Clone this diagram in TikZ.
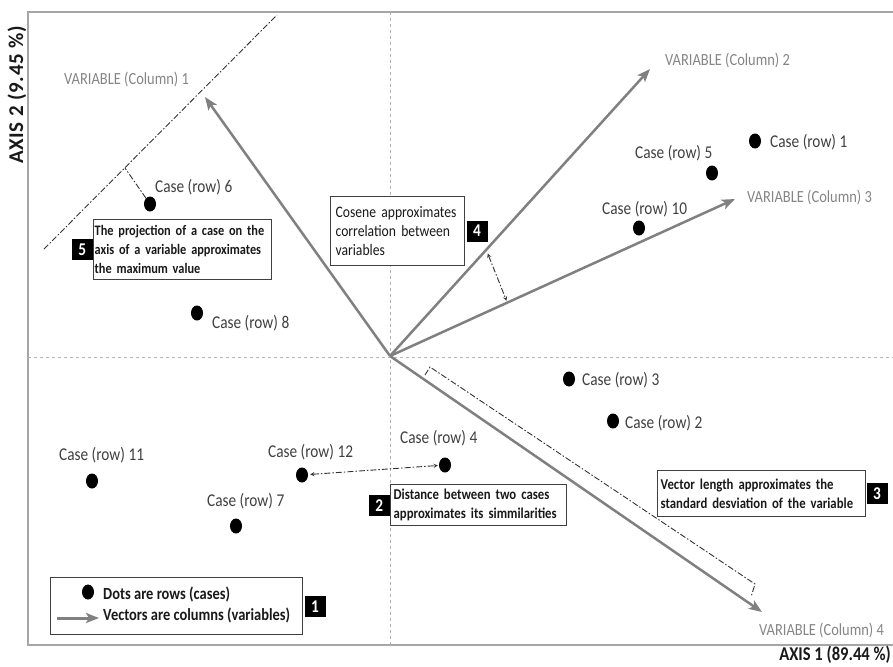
\documentclass[tikz,border=0pt]{standalone}
\usepackage{fontspec}
\setmainfont{Carlito}[FakeStretch=0.85]
\newfontfamily\axisfont{Carlito}[LetterSpace=3]
\usepackage{xcolor}
\usepackage{tikz}
\usetikzlibrary{positioning,shapes.geometric,arrows.meta}

\definecolor{vecgray}{HTML}{808080}
\definecolor{framegray}{HTML}{A6A6A6}
\definecolor{axisgray}{HTML}{B5B5B5}
\definecolor{labelgray}{HTML}{404040}
\definecolor{vargray}{HTML}{858585}

\tikzset{
  casedot/.style={ellipse, fill=black, minimum width=12pt, minimum height=15pt, inner sep=0pt},
  caselabel/.style={anchor=west, inner sep=0pt, text=labelgray, font=\fontsize{18}{20}\selectfont},
  varlabel/.style={anchor=west, inner sep=0pt, text=vargray, font=\fontsize{17}{19}\selectfont},
  vector/.style={-{Stealth[length=13pt,width=10pt,inset=3pt]}, vecgray, line width=2.5pt},
  dashdot/.style={dash pattern=on 6pt off 2pt on 1.5pt off 2pt, line width=0.9pt, black!80},
  notebox/.style={draw=labelgray, line width=1.3pt, fill=white, align=left, anchor=north west,
    inner sep=3pt, text=black!90, font=\bfseries\fontsize{15}{19}\selectfont},
  badge/.style={fill=black, text=white, font=\bfseries\fontsize{18}{18}\selectfont,
    minimum size=21pt, inner sep=0pt},
}

\begin{document}
\begin{tikzpicture}[x=1pt,y=-1pt]
    \useasboundingbox (0,0) rectangle (893,666);
    % frame and axes
    \draw[framegray, line width=1.5pt] (893,12) -- (28,12) -- (28,645) -- (893,645);
    \draw[axisgray, line width=1pt, dash pattern=on 3pt off 3pt] (28,357) -- (893,357);
    \draw[axisgray, line width=1pt, dash pattern=on 3pt off 3pt] (390,12) -- (390,645);
    \node (ax1) [anchor=east, inner sep=0pt, text=black!90, font=\bfseries\fontsize{19.5}{21}\selectfont] at (891,655) {AXIS 1 (89.44 \%)};
    \node (ax2) [rotate=90, inner sep=0pt, text=black!90, font=\axisfont\bfseries\fontsize{21}{22}\selectfont] at (17,95) {AXIS 2 (9.45 \%)};

    % vectors (variables)
    \coordinate (o) at (390,356);
    \coordinate (v1) at (205,97);
    \coordinate (v2) at (650,69);
    \coordinate (v3) at (735,199);
    \coordinate (v4) at (762,612);
    \draw[vector] (o) -- (v1);
    \draw[vector] (o) -- (v2);
    \draw[vector] (o) -- (v3);
    \draw[vector] (o) -- (v4);
    \node (var1) [varlabel] at (64,79) {VARIABLE (Column) 1};
    \node (var2) [varlabel] at (665,60) {VARIABLE (Column) 2};
    \node (var3) [varlabel] at (747,197) {VARIABLE (Column) 3};
    \node (var4) [varlabel] at (759,630) {VARIABLE (Column) 4};

    % dots (cases)
    \node (c1) [casedot] at (755,141) {};
    \node (c2) [casedot] at (613,421) {};
    \node (c3) [casedot] at (569,379) {};
    \node (c4) [casedot] at (445,465) {};
    \node (c5) [casedot] at (712,173) {};
    \node (c6) [casedot] at (150,204) {};
    \node (c7) [casedot] at (236,526) {};
    \node (c8) [casedot] at (197,313) {};
    \node (c10) [casedot] at (639,228) {};
    \node (c11) [casedot] at (92,481) {};
    \node (c12) [casedot] at (302,475) {};
    \node (lc1) [caselabel] at (770,142) {Case (row) 1};
    \node (lc2) [caselabel] at (625,423) {Case (row) 2};
    \node (lc3) [caselabel] at (582,380) {Case (row) 3};
    \node (lc4) [caselabel] at (400,438) {Case (row) 4};
    \node (lc5) [caselabel] at (635,153) {Case (row) 5};
    \node (lc6) [caselabel] at (155,187) {Case (row) 6};
    \node (lc7) [caselabel] at (207,501) {Case (row) 7};
    \node (lc8) [caselabel] at (212,323) {Case (row) 8};
    \node (lc10) [caselabel] at (602,209) {Case (row) 10};
    \node (lc11) [caselabel] at (59,455) {Case (row) 11};
    \node (lc12) [caselabel] at (268,452) {Case (row) 12};

    % 5: projection
    \coordinate (p1) at (44,249);
    \coordinate (p2) at (277,15);
    \coordinate (p6) at (125,168);
    \draw[dashdot] (p1) -- (p2);
    \draw[dashdot] (c6) -- (p6);
    \node (box5) [notebox, text width=176pt, inner xsep=1pt, minimum height=60pt,
        font=\bfseries\fontsize{14.5}{19}\selectfont] at (93,219)
        {The projection of a case on the\\ axis of a variable approximates\\ the maximum value};
    \node (n5) [badge, left=0pt of box5] {5};

    % 4: cosene
    \path (o) -- (v2) coordinate[pos=0.37] (a2);
    \path (o) -- (v3) coordinate[pos=0.34] (a3);
    \draw[dashdot, stealth-stealth, shorten <=4pt, shorten >=2pt] (a2) -- (a3);
    \node (box4) [notebox, text width=124pt, inner xsep=5pt, minimum height=69pt,
        font=\fontsize{16}{19}\selectfont] at (330,196)
        {Cosene approximates\\ correlation between\\ variables};
    \node (n4) [badge, right=1pt of box4] {4};

    % 2: distance
    \draw[dashdot, stealth-stealth, shorten <=2pt, shorten >=1pt] (c12) -- (c4);
    \node (box2) [notebox, text width=170pt, minimum height=41pt] at (390,484)
        {Distance between two cases\\ approximates its simmilarities};
    \node (n2) [badge, left=0pt of box2] {2};

    % 3: vector length
    \coordinate (b0) at (425,375);
    \coordinate (b1) at (430,367);
    \coordinate (b2) at (755,584);
    \coordinate (b3) at (751,597);
    \draw[dashdot] (b0) -- (b1) -- (b2) -- (b3);
    \node (box3) [notebox, text width=202pt, minimum height=46pt] at (657,470)
        {Vector length approximates the\\ standard desviation of the variable};
    \node (n3) [badge, right=0pt of box3] {3};

    % 1: legend
    \node (legend) [draw=labelgray, line width=1.3pt, minimum width=252pt, minimum height=57pt,
        anchor=north west] at (50,577) {};
    \node (n1) [badge, right=1pt of legend] {1};
    \node (legdot) [casedot] at (88,592) {};
    \coordinate (la) at (57,618);
    \coordinate (lb) at (99,618);
    \draw[vector, line width=3pt] (la) -- (lb);
    \node (legrows) [anchor=west, inner sep=0pt, text=black!90, font=\bfseries\fontsize{17}{19}\selectfont]
        at (103,594) {Dots are rows (cases)};
    \node (legcols) [anchor=west, inner sep=0pt, text=black!90, font=\bfseries\fontsize{17}{19}\selectfont]
        at (103,615) {Vectors are columns (variables)};
\end{tikzpicture}
\end{document}
